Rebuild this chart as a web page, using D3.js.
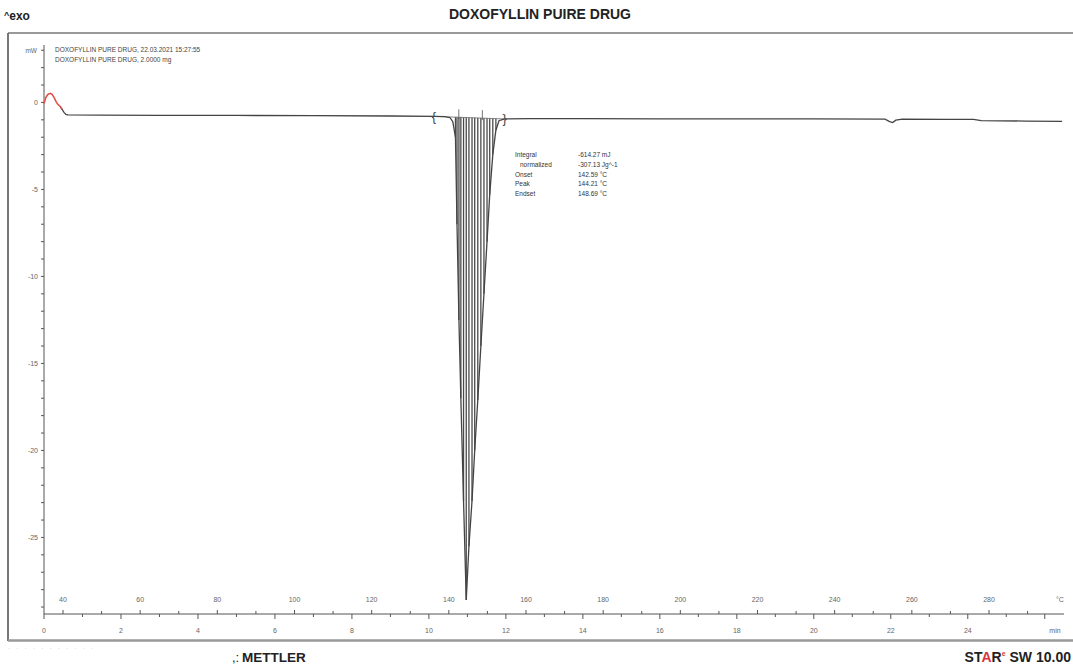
<!DOCTYPE html>
<html>
<head>
<meta charset="utf-8">
<script src="https://cdn.jsdelivr.net/npm/d3@7"></script>
<style>
  html, body { margin: 0; padding: 0; background: #fff; }
  svg { display: block; }
  text { font-family: "Liberation Sans", Arial, sans-serif; -webkit-font-smoothing: antialiased; }
</style>
</head>
<body>
<svg id="chart" width="1073" height="667"></svg>
<script>
// DSC run of doxofylline: time (min) vs heat flow (mW)
const timeMin = [
  0.00, 0.05, 0.10, 0.16, 0.21, 0.26, 0.31, 0.36, 0.42, 0.47, 0.52, 0.57, 0.62,
  1.5, 3.0, 5.0, 7.0, 9.0, 10.13, 10.42, 10.55, 10.62,
  10.69, 10.73, 10.78, 10.83, 10.90, 10.97,
  11.04, 11.12, 11.19, 11.27, 11.35, 11.43, 11.51, 11.58, 11.66, 11.74, 11.82, 11.97,
  12.6, 14.0, 16.0, 18.0, 20.0, 21.85, 21.97, 22.05, 22.13, 22.3,
  23.5, 24.15, 24.35, 25.5, 26.45
];
const heatFlowMW = [
  -0.06, 0.29, 0.46, 0.52, 0.46, 0.29, 0.06, -0.11, -0.23, -0.40, -0.57, -0.69, -0.72,
  -0.73, -0.74, -0.75, -0.76, -0.78, -0.80, -0.82, -0.88, -1.1,
  -2.0, -7.0, -12.5, -17.0, -22.9, -28.6,
  -25.5, -22.9, -20.0, -17.1, -14.0, -11.0, -8.0, -5.3, -3.0, -1.6, -1.05, -0.95,
  -0.93, -0.93, -0.94, -0.94, -0.95, -0.96, -1.10, -1.16, -1.02, -0.96,
  -0.97, -0.98, -1.05, -1.07, -1.09
];

// First few points of the run are drawn in red
const redUntilMin = 0.45;

// Integration window and evaluation results
const integrationLimitsMin = [10.13, 11.97];
const onsetEndsetC = [142.59, 148.69];
const resultLabels = ["Integral", "normalized", "Onset", "Peak", "Endset"];
const resultValues = ["-614.27 mJ", "-307.13 Jg^-1", "142.59 °C", "144.21 °C", "148.69 °C"];

// Axis ticks
const minTickLabels = [0, 2, 4, 6, 8, 10, 12, 14, 16, 18, 20, 22, 24];
const tempTickLabels = [40, 60, 80, 100, 120, 140, 160, 180, 200, 220, 240, 260, 280];
const mwTickLabels = [0, -5, -10, -15, -20, -25];

const legendLines = [
  "DOXOFYLLIN PURE DRUG, 22.03.2021 15:27:55",
  "DOXOFYLLIN PURE DRUG, 2.0000 mg"
];

const svg = d3.select("#chart");
const axisColor = "#555";
const labelColor = "#666";

// Scales
const x = d3.scaleLinear().domain([0, 26.5]).range([44, 1064]);
const y = d3.scaleLinear().domain([-29.4, 3.3]).range([614, 45]);
const xT = d3.scaleLinear().domain([40, 280]).range([63, 989]);

// Header
const exo = svg.append("text").attr("x", 4).attr("y", 20)
  .attr("font-size", 12).attr("font-weight", "bold").attr("fill", "#222");
exo.append("tspan").attr("font-size", 9).attr("dy", -2).text("^");
exo.append("tspan").attr("dy", 2).text("exo");
svg.append("text").attr("x", 540).attr("y", 19).attr("text-anchor", "middle")
  .attr("font-size", 14).attr("font-weight", "bold").attr("fill", "#222")
  .text("DOXOFYLLIN PUIRE DRUG");

// Frame
svg.append("line").attr("x1", 8).attr("x2", 1073).attr("y1", 33).attr("y2", 33)
  .attr("stroke", "#777").attr("stroke-width", 1.5);
svg.append("line").attr("x1", 8).attr("x2", 8).attr("y1", 33).attr("y2", 641)
  .attr("stroke", "#777").attr("stroke-width", 2);
svg.append("line").attr("x1", 8).attr("x2", 1073).attr("y1", 640.5).attr("y2", 640.5)
  .attr("stroke", "#999").attr("stroke-width", 2.5);

// Y axis
svg.append("line").attr("x1", x(0)).attr("x2", x(0))
  .attr("y1", y(3.3)).attr("y2", y(-29.4))
  .attr("stroke", axisColor).attr("stroke-width", 1);
const mwMinor = d3.range(-29, 4, 1);
svg.append("g").selectAll("line").data(mwMinor).join("line")
  .attr("x1", x(0) - 3).attr("x2", x(0))
  .attr("y1", d => y(d)).attr("y2", d => y(d))
  .attr("stroke", axisColor).attr("stroke-width", 1);
svg.append("g").selectAll("text").data(mwTickLabels).join("text")
  .attr("x", x(0) - 6).attr("y", d => y(d) + 2.5)
  .attr("text-anchor", "end").attr("font-size", 7).attr("fill", labelColor)
  .text(d => d);
svg.append("text").attr("x", x(0) - 7).attr("y", y(3) + 2.5)
  .attr("text-anchor", "end").attr("font-size", 6.5).attr("fill", labelColor)
  .text("mW");

// X axis (minutes below, temperature above)
svg.append("line").attr("x1", x(0)).attr("x2", x(26.5))
  .attr("y1", y(-29.4)).attr("y2", y(-29.4))
  .attr("stroke", axisColor).attr("stroke-width", 1);
const minMinor = d3.range(0, 26.51, 1);
svg.append("g").selectAll("line").data(minMinor).join("line")
  .attr("x1", d => x(d)).attr("x2", d => x(d))
  .attr("y1", y(-29.4)).attr("y2", d => y(-29.4) + (d % 2 === 0 ? 5 : 3))
  .attr("stroke", axisColor).attr("stroke-width", 1);
const tempMinor = d3.range(40, 291, 10);
svg.append("g").selectAll("line").data(tempMinor).join("line")
  .attr("x1", d => xT(d)).attr("x2", d => xT(d))
  .attr("y1", y(-29.4)).attr("y2", d => y(-29.4) - (d % 20 === 0 ? 4 : 3))
  .attr("stroke", axisColor).attr("stroke-width", 1);
svg.append("g").selectAll("text").data(minTickLabels).join("text")
  .attr("x", d => x(d)).attr("y", y(-29.4) + 19)
  .attr("text-anchor", "middle").attr("font-size", 7).attr("fill", labelColor)
  .text(d => d);
svg.append("text").attr("x", 1055).attr("y", y(-29.4) + 19)
  .attr("text-anchor", "middle").attr("font-size", 7).attr("fill", labelColor).text("min");
svg.append("g").selectAll("text").data(tempTickLabels).join("text")
  .attr("x", d => xT(d)).attr("y", y(-29.4) - 12)
  .attr("text-anchor", "middle").attr("font-size", 7).attr("fill", labelColor)
  .text(d => d);
svg.append("text").attr("x", 1060).attr("y", y(-29.4) - 12)
  .attr("text-anchor", "middle").attr("font-size", 7).attr("fill", labelColor).text("°C");

// Legend lines
svg.append("g").selectAll("text").data(legendLines).join("text")
  .attr("x", 55).attr("y", (d, i) => 52 + i * 10)
  .attr("font-size", 6.5).attr("fill", "#444")
  .text(d => d);

// Data points
const pts = timeMin.map((t, i) => ({ t, v: heatFlowMW[i] }));
const line = d3.line().x(d => x(d.t)).y(d => y(d.v));

// Integration hatch: vertical strokes from the integration baseline to the curve
const [tA, tB] = integrationLimitsMin;
const vA = heatFlowMW[timeMin.indexOf(tA)];
const vB = heatFlowMW[timeMin.indexOf(tB)];
const baseAt = t => vA + (vB - vA) * (t - tA) / (tB - tA);
const hatchPts = pts.filter(d => d.t > tA && d.t < tB && d.v < baseAt(d.t) - 0.5);
svg.append("g").selectAll("line").data(hatchPts).join("line")
  .attr("x1", d => x(d.t)).attr("x2", d => x(d.t))
  .attr("y1", d => y(baseAt(d.t))).attr("y2", d => y(d.v))
  .attr("stroke", "#4a4a4a").attr("stroke-width", 1.3);
// Integration baseline
svg.append("line").attr("x1", x(tA)).attr("x2", x(tB))
  .attr("y1", y(vA)).attr("y2", y(vB))
  .attr("stroke", "#666").attr("stroke-width", 0.8);

// Curve: red start, dark remainder
const redPts = pts.filter(d => d.t <= redUntilMin + 0.06);
const darkPts = pts.filter(d => d.t >= redUntilMin - 0.06);
svg.append("path").datum(darkPts).attr("d", line)
  .attr("fill", "none").attr("stroke", "#444").attr("stroke-width", 1.3);
svg.append("path").datum(redPts).attr("d", line)
  .attr("fill", "none").attr("stroke", "#e0504a").attr("stroke-width", 1.6);

// Integration limit brackets
[tA, tB].forEach((t, i) => {
  const v = heatFlowMW[timeMin.indexOf(t)];
  svg.append("text").attr("x", x(t)).attr("y", y(v) + 4.5)
    .attr("text-anchor", "middle").attr("font-size", 13).attr("fill", "#444")
    .text(i === 0 ? "{" : "}");
});
// Onset / endset markers
onsetEndsetC.forEach(c => {
  const t = x.invert(xT(c));
  svg.append("line").attr("x1", xT(c)).attr("x2", xT(c))
    .attr("y1", y(baseAt(t)) - 8).attr("y2", y(baseAt(t)) + 2)
    .attr("stroke", "#555").attr("stroke-width", 0.8);
});

// Evaluation results
const resG = svg.append("g").attr("font-size", 6.5).attr("fill", "#333");
resultLabels.forEach((lab, i) => {
  resG.append("text").attr("x", lab === "normalized" ? 520 : 515).attr("y", 157 + i * 9.8).text(lab);
  resG.append("text").attr("x", 578).attr("y", 157 + i * 9.8).text(resultValues[i]);
});

// Footer
svg.append("text").attr("x", 8).attr("y", 651)
  .attr("font-size", 7).attr("fill", "#ccc").attr("letter-spacing", 2)
  .text("· · ·  · · ·  · ·   · · ·");
svg.append("text").attr("x", 232).attr("y", 662)
  .attr("font-size", 13).attr("fill", "#222")
  .text(",:");
svg.append("text").attr("x", 242).attr("y", 662)
  .attr("font-size", 13.5).attr("font-weight", "bold").attr("fill", "#222")
  .text("METTLER");
const star = svg.append("text").attr("x", 1071).attr("y", 662).attr("text-anchor", "end")
  .attr("font-size", 14).attr("font-weight", "bold").attr("fill", "#222");
star.append("tspan").text("ST");
star.append("tspan").attr("fill", "#d9363e").text("A");
star.append("tspan").attr("fill", "#2a1a1a").text("R");
star.append("tspan").attr("fill", "#d9363e").attr("font-size", 7).attr("dy", -6).text("e");
star.append("tspan").attr("dy", 6).text(" SW 10.00");
</script>
</body>
</html>
